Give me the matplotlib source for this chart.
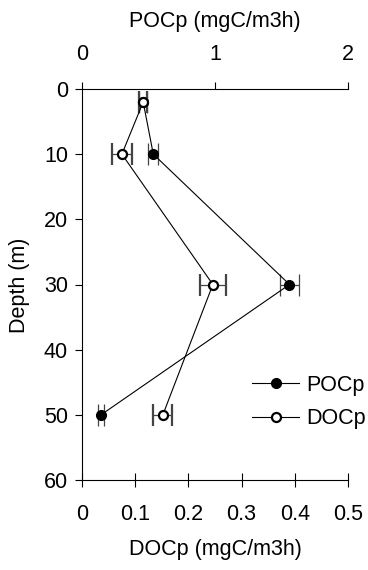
import matplotlib
matplotlib.use("Agg")
from matplotlib import pyplot as plt
from matplotlib.lines import Line2D

plt.rcParams["font.family"] = ["Liberation Sans", "DejaVu Sans"]

# data
depth = [2, 10, 30, 50]
poc = [0.46, 0.536, 1.56, 0.143]        # top axis, mgC/m3h
poc_err = [0.03, 0.038, 0.075, 0.02]
doc = [0.115, 0.075, 0.246, 0.152]      # bottom axis, mgC/m3h
doc_err = [0.008, 0.019, 0.025, 0.018]

doc_ticks = [0, 0.1, 0.2, 0.3, 0.4, 0.5]
doc_ticklabels = ["0", "0.1", "0.2", "0.3", "0.4", "0.5"]
poc_ticks = [0, 1, 2]
depth_ticks = [0, 10, 20, 30, 40, 50, 60]

W, H = 368, 570
fig = plt.figure(figsize=(W / 100, H / 100), dpi=100)
ax = fig.add_axes([82 / W, 1 - 480 / H, (348 - 82) / W, (480 - 89) / H])
ax2 = ax.twiny()

fs = 15.5
lw = 0.8

# POCp on the top axis
ax2.errorbar(
    poc, depth, xerr=poc_err,
    color="black", lw=lw, marker="o", ms=7, mfc="black", mec="black",
    ecolor="#444444", elinewidth=0.9, capsize=8, capthick=0.9,
)

# DOCp on the bottom axis
ax.errorbar(
    doc, depth, xerr=doc_err,
    color="black", lw=lw, marker="o", ms=6.5, mfc="white", mec="black", mew=1.6,
    ecolor="#444444", elinewidth=0.9, capsize=8, capthick=0.9,
)

ax.set_zorder(ax2.get_zorder() + 1)
ax.patch.set_visible(False)

ax.set_xlim(0, 0.5)
ax2.set_xlim(0, 2)
ax.set_ylim(60, 0)

ax.set_xticks(doc_ticks)
ax.set_xticklabels(doc_ticklabels)
ax2.set_xticks(poc_ticks)
ax2.set_xticklabels([str(t) for t in poc_ticks])
ax.set_yticks(depth_ticks)
ax.set_yticklabels([str(t) for t in depth_ticks])

for s in ["top", "right"]:
    ax.spines[s].set_visible(False)
for s in ["bottom", "left", "right"]:
    ax2.spines[s].set_visible(False)
for sp in list(ax.spines.values()) + list(ax2.spines.values()):
    sp.set_linewidth(0.8)

ax.tick_params(axis="x", direction="inout", length=10, width=0.8, pad=12, labelsize=fs)
ax.tick_params(axis="y", direction="out", length=5, width=0.8, pad=5, labelsize=fs)
ax2.tick_params(axis="x", direction="out", length=5, width=0.8, pad=12, labelsize=fs)

fig.text(215 / W, 1 - 22 / H, "POCp (mgC/m3h)", ha="center", va="center", fontsize=fs)
fig.text(215 / W, 1 - 550 / H, "DOCp (mgC/m3h)", ha="center", va="center", fontsize=fs)
fig.text(20 / W, 1 - 285 / H, "Depth (m)", ha="center", va="center", rotation=90, fontsize=fs)

handles = [
    Line2D([], [], color="black", lw=lw, marker="o", ms=7, mfc="black", mec="black"),
    Line2D([], [], color="black", lw=lw, marker="o", ms=6.5, mfc="white", mec="black", mew=1.6),
]
ax.legend(
    handles, ["POCp", "DOCp"],
    loc="center left", bbox_to_anchor=(252 / W, 1 - 402 / H),
    bbox_transform=fig.transFigure,
    frameon=False, fontsize=fs, borderpad=0, borderaxespad=0,
    handlelength=2.2, handletextpad=0.3, labelspacing=0.6,
)

fig.savefig("out.png", dpi=100)
